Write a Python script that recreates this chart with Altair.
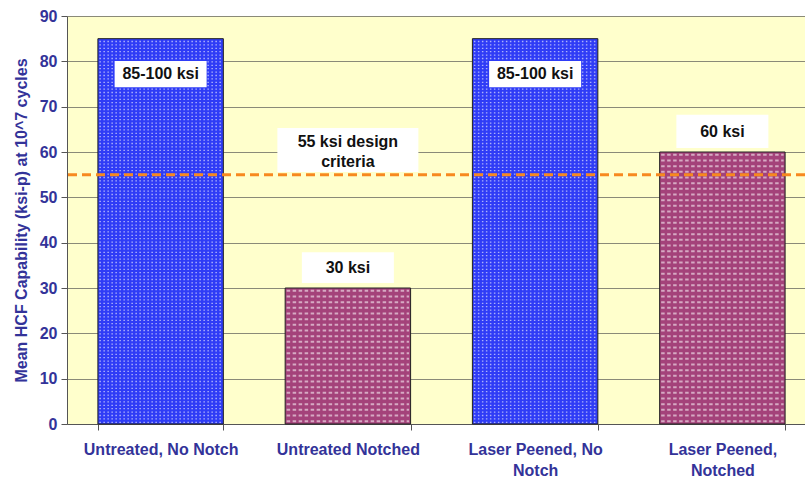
import altair as alt
import numpy as np
import pandas as pd

# Mean HCF capability by surface condition
categories = [
    "Untreated, No Notch",
    "Untreated Notched",
    "Laser Peened, No\nNotch",
    "Laser Peened,\nNotched",
]
capability = [85, 30, 85, 60]
bar_colors = ["#2f3cf6", "#a4427a", "#2f3cf6", "#a4427a"]
notched = [False, True, False, True]

design_limit = 55

# Callout boxes: category, box bottom/top (ksi), box width
box_cats = [categories[0], categories[1], categories[1], categories[2], categories[3]]
box_lo = [74.3, 31.1, 55.6, 74.3, 60.9]
box_hi = [80.1, 37.9, 65.3, 80.1, 68.2]
box_w = [92, 92, 141, 92, 92]

text_cats = [categories[0], categories[1], categories[1], categories[1], categories[2], categories[3]]
text_y = [77.2, 34.5, 62.2, 57.8, 77.2, 64.5]
text_str = ["85-100 ksi", "30 ksi", "55 ksi design", "criteria", "85-100 ksi", "60 ksi"]

bars_df = pd.DataFrame({"cat": categories, "val": capability, "color": bar_colors})
boxes_df = pd.DataFrame({"cat": box_cats, "lo": box_lo, "hi": box_hi, "w": box_w})
texts_df = pd.DataFrame({"cat": text_cats, "y": text_y, "t": text_str})
limit_df = pd.DataFrame({"y": [design_limit]})

# Dot-fill texture: rows of dashed white strokes inside each bar
def texture_rows(step, want_notched):
    rows = []
    for cat, val, n in zip(categories, capability, notched):
        if n != want_notched:
            continue
        for k, yv in enumerate(np.arange(step / 2, val - step / 4, step)):
            rows.append({"cat": cat, "y": float(yv), "odd": k % 2})
    return pd.DataFrame(rows)

plain_rows = texture_rows(0.75, False)
notch_rows = texture_rows(1.25, True)

axis_blue = "#333399"
font = "Liberation Sans"

x_scale = alt.Scale(domain=categories, range=[0, 749], paddingInner=0.33, paddingOuter=0.165)
y_scale = alt.Scale(domain=[0, 90], nice=False)

x_enc = alt.X(
    "cat:N",
    scale=x_scale,
    sort=categories,
    axis=alt.Axis(
        title=None,
        labelAngle=0,
        labelExpr="split(datum.label, '\\n')",
        labelFont=font,
        labelFontSize=16,
        labelFontWeight="bold",
        labelColor=axis_blue,
        labelPadding=11,
        labelLineHeight=21,
        labelLimit=300,
        tickBand="extent",
        tickSize=6,
        tickColor="#555555",
        domainColor="#555555",
        grid=False,
    ),
)

bars = alt.Chart(bars_df).mark_bar(stroke="#222222", strokeWidth=1).encode(
    x=x_enc,
    y=alt.Y(
        "val:Q",
        scale=y_scale,
        axis=alt.Axis(
            title="Mean HCF Capability (ksi-p) at 10^7 cycles",
            titleFont=font,
            titleFontSize=16,
            titleFontWeight="bold",
            titleColor=axis_blue,
            titlePadding=10,
            values=list(range(0, 91, 10)),
            labelFont=font,
            labelFontSize=16,
            labelFontWeight="bold",
            labelColor=axis_blue,
            labelPadding=4,
            tickSize=6,
            tickColor="#555555",
            domainColor="#555555",
            gridColor="#8a8a78",
            gridWidth=1,
            gridOpacity=1,
        ),
    ),
    color=alt.Color("color:N", scale=None),
)

def texture_layer(df, dash, width, opacity):
    return alt.Chart(df).mark_rule(
        color="white", strokeWidth=width, strokeDash=dash, strokeOpacity=opacity
    ).encode(
        x=alt.X("cat:N", scale=x_scale, sort=categories, bandPosition=0.012),
        x2=alt.X2("cat:N", bandPosition=0.988),
        y=alt.Y("y:Q", scale=y_scale),
    )

plain_tex = texture_layer(plain_rows, [1.5, 2.5], 1.3, 0.6)
notch_tex = texture_layer(notch_rows, [3.5, 2.5], 2.0, 0.55)

limit = alt.Chart(limit_df).mark_rule(
    color="#f7891f", strokeWidth=3, strokeDash=[9, 5]
).encode(y=alt.Y("y:Q", scale=y_scale))

boxes = alt.Chart(boxes_df).mark_bar(color="white", stroke=None).encode(
    x=alt.X("cat:N", scale=x_scale, sort=categories),
    y=alt.Y("lo:Q", scale=y_scale),
    y2="hi:Q",
    size=alt.Size("w:Q", scale=None),
)

texts = alt.Chart(texts_df).mark_text(
    font=font, fontSize=16, fontWeight="bold", color="#111111", baseline="middle"
).encode(
    x=alt.X("cat:N", scale=x_scale, sort=categories),
    y=alt.Y("y:Q", scale=y_scale),
    text="t:N",
)

chart = (
    alt.layer(bars, plain_tex, notch_tex, limit, boxes, texts)
    .properties(
        width=738,
        height=408,
        autosize="none",
        padding={"left": 67, "top": 16, "right": 0, "bottom": 55},
        background="white",
    )
    .configure_view(fill="#ffffcc", stroke=None)
)

chart.save("out.html", embed_options={"renderer": "svg", "actions": False})
